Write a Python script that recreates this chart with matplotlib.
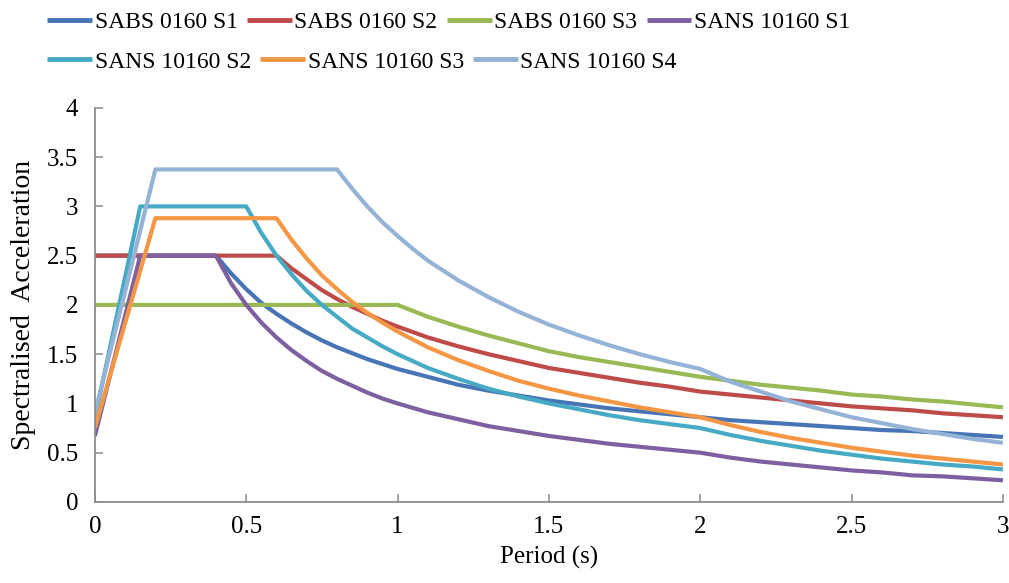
import matplotlib
matplotlib.use("Agg")
import matplotlib.pyplot as plt

plt.rcParams['font.family'] = ['Liberation Serif', 'DejaVu Serif']

# Period (s) and spectralised acceleration
tail_t = [1.0, 1.1, 1.2, 1.3, 1.4, 1.5, 1.6, 1.7, 1.8, 1.9, 2.0,
          2.1, 2.2, 2.3, 2.4, 2.5, 2.6, 2.7, 2.8, 2.9, 3.0]

sabs_s1_t = [0.0, 0.4, 0.45, 0.5, 0.55, 0.6, 0.65, 0.7, 0.75, 0.8, 0.85, 0.9, 0.95] + tail_t
sabs_s1_a = [2.5, 2.5, 2.32, 2.16, 2.02, 1.91, 1.81, 1.72, 1.64, 1.57, 1.51, 1.45, 1.40,
             1.35, 1.27, 1.19, 1.13, 1.08, 1.03, 0.99, 0.95, 0.92, 0.89, 0.86,
             0.83, 0.81, 0.79, 0.77, 0.75, 0.73, 0.72, 0.70, 0.68, 0.66]

sabs_s2_t = [0.0, 0.6, 0.65, 0.7, 0.75, 0.8, 0.85, 0.9, 0.95] + tail_t
sabs_s2_a = [2.5, 2.5, 2.37, 2.26, 2.15, 2.06, 1.98, 1.91, 1.84,
             1.78, 1.67, 1.58, 1.50, 1.43, 1.36, 1.31, 1.26, 1.21, 1.17, 1.12,
             1.09, 1.06, 1.03, 1.00, 0.97, 0.95, 0.93, 0.90, 0.88, 0.86]

sabs_s3_t = [0.0] + tail_t
sabs_s3_a = [2.0,
             2.0, 1.88, 1.78, 1.69, 1.61, 1.53, 1.47, 1.42, 1.37, 1.32, 1.27,
             1.23, 1.19, 1.16, 1.13, 1.09, 1.07, 1.04, 1.02, 0.99, 0.96]

sans_s1_t = [0.0, 0.15, 0.4, 0.45, 0.5, 0.55, 0.6, 0.65, 0.7, 0.75, 0.8, 0.85, 0.9, 0.95] + tail_t
sans_s1_a = [0.67, 2.5, 2.5, 2.22, 2.0, 1.82, 1.67, 1.54, 1.43, 1.33, 1.25, 1.18, 1.11, 1.05,
             1.0, 0.91, 0.84, 0.77, 0.72, 0.67, 0.63, 0.59, 0.56, 0.53, 0.50,
             0.45, 0.41, 0.38, 0.35, 0.32, 0.30, 0.27, 0.26, 0.24, 0.22]

sans_s2_t = [0.0, 0.15, 0.5, 0.55, 0.6, 0.65, 0.7, 0.75, 0.8, 0.85, 0.9, 0.95] + tail_t
sans_s2_a = [0.85, 3.0, 3.0, 2.73, 2.5, 2.31, 2.14, 2.0, 1.88, 1.76, 1.67, 1.58,
             1.50, 1.36, 1.25, 1.15, 1.07, 1.00, 0.94, 0.88, 0.83, 0.79, 0.75,
             0.68, 0.62, 0.57, 0.52, 0.48, 0.44, 0.41, 0.38, 0.36, 0.33]

sans_s3_t = [0.0, 0.2, 0.6, 0.65, 0.7, 0.75, 0.8, 0.85, 0.9, 0.95] + tail_t
sans_s3_a = [0.75, 2.88, 2.88, 2.66, 2.47, 2.30, 2.16, 2.03, 1.92, 1.82,
             1.73, 1.57, 1.44, 1.33, 1.23, 1.15, 1.08, 1.02, 0.96, 0.91, 0.86,
             0.78, 0.71, 0.65, 0.60, 0.55, 0.51, 0.47, 0.44, 0.41, 0.38]

sans_s4_t = [0.0, 0.2, 0.8, 0.85, 0.9, 0.95, 1.0, 1.05, 1.1, 1.15] + tail_t[2:]
sans_s4_a = [0.9, 3.375, 3.375, 3.18, 3.0, 2.84, 2.70, 2.57, 2.45, 2.35,
             2.25, 2.08, 1.93, 1.80, 1.69, 1.59, 1.50, 1.42, 1.35,
             1.22, 1.12, 1.02, 0.94, 0.86, 0.80, 0.74, 0.69, 0.64, 0.60]

series = [
    ("SABS 0160 S1", sabs_s1_t, sabs_s1_a, "#4674b5"),
    ("SABS 0160 S2", sabs_s2_t, sabs_s2_a, "#be4b48"),
    ("SABS 0160 S3", sabs_s3_t, sabs_s3_a, "#98b954"),
    ("SANS 10160 S1", sans_s1_t, sans_s1_a, "#7d60a0"),
    ("SANS 10160 S2", sans_s2_t, sans_s2_a, "#46aac5"),
    ("SANS 10160 S3", sans_s3_t, sans_s3_a, "#f59644"),
    ("SANS 10160 S4", sans_s4_t, sans_s4_a, "#95b3d7"),
]

x_ticks = [0, 0.5, 1, 1.5, 2, 2.5, 3]
y_ticks = [0, 0.5, 1, 1.5, 2, 2.5, 3, 3.5, 4]

fig = plt.figure(figsize=(10.09, 5.83), dpi=100)
ax = fig.add_axes([0.094, 0.139, 0.9, 0.676])

lines = []
for name, t, a, col in series:
    ln, = ax.plot(t, a, color=col, linewidth=3.0, label=name,
                  solid_joinstyle='round', solid_capstyle='butt')
    lines.append(ln)

ax.set_xlim(0, 3)
ax.set_ylim(0, 4)
ax.set_xticks(x_ticks)
ax.set_xticklabels([f"{v:g}" for v in x_ticks])
ax.set_yticks(y_ticks)
ax.set_yticklabels([f"{v:g}" for v in y_ticks])

for side in ("top", "right"):
    ax.spines[side].set_visible(False)
for side in ("left", "bottom"):
    ax.spines[side].set_color("#8c8c8c")
    ax.spines[side].set_linewidth(1.3)
ax.tick_params(direction='in', length=6, width=1.1, color="#8c8c8c",
               labelsize=18, pad=10)
ax.tick_params(axis='y', pad=12)

ax.set_xlabel("Period (s)", fontsize=18, labelpad=6)
ax.set_ylabel("Spectralised  Acceleration", fontsize=20, labelpad=8)

leg_kw = dict(frameon=False, fontsize=17, handlelength=1.9,
              handletextpad=0.1, columnspacing=0.4, borderpad=0,
              borderaxespad=0, loc='center left')
leg1 = fig.legend(handles=lines[:4], ncol=4, bbox_to_anchor=(0.047, 0.962), **leg_kw)
leg2 = fig.legend(handles=lines[4:], ncol=3, bbox_to_anchor=(0.047, 0.894), **leg_kw)
for leg in (leg1, leg2):
    for h in leg.legend_handles:
        h.set_linewidth(3.5)

fig.savefig("out.png", dpi=100)
